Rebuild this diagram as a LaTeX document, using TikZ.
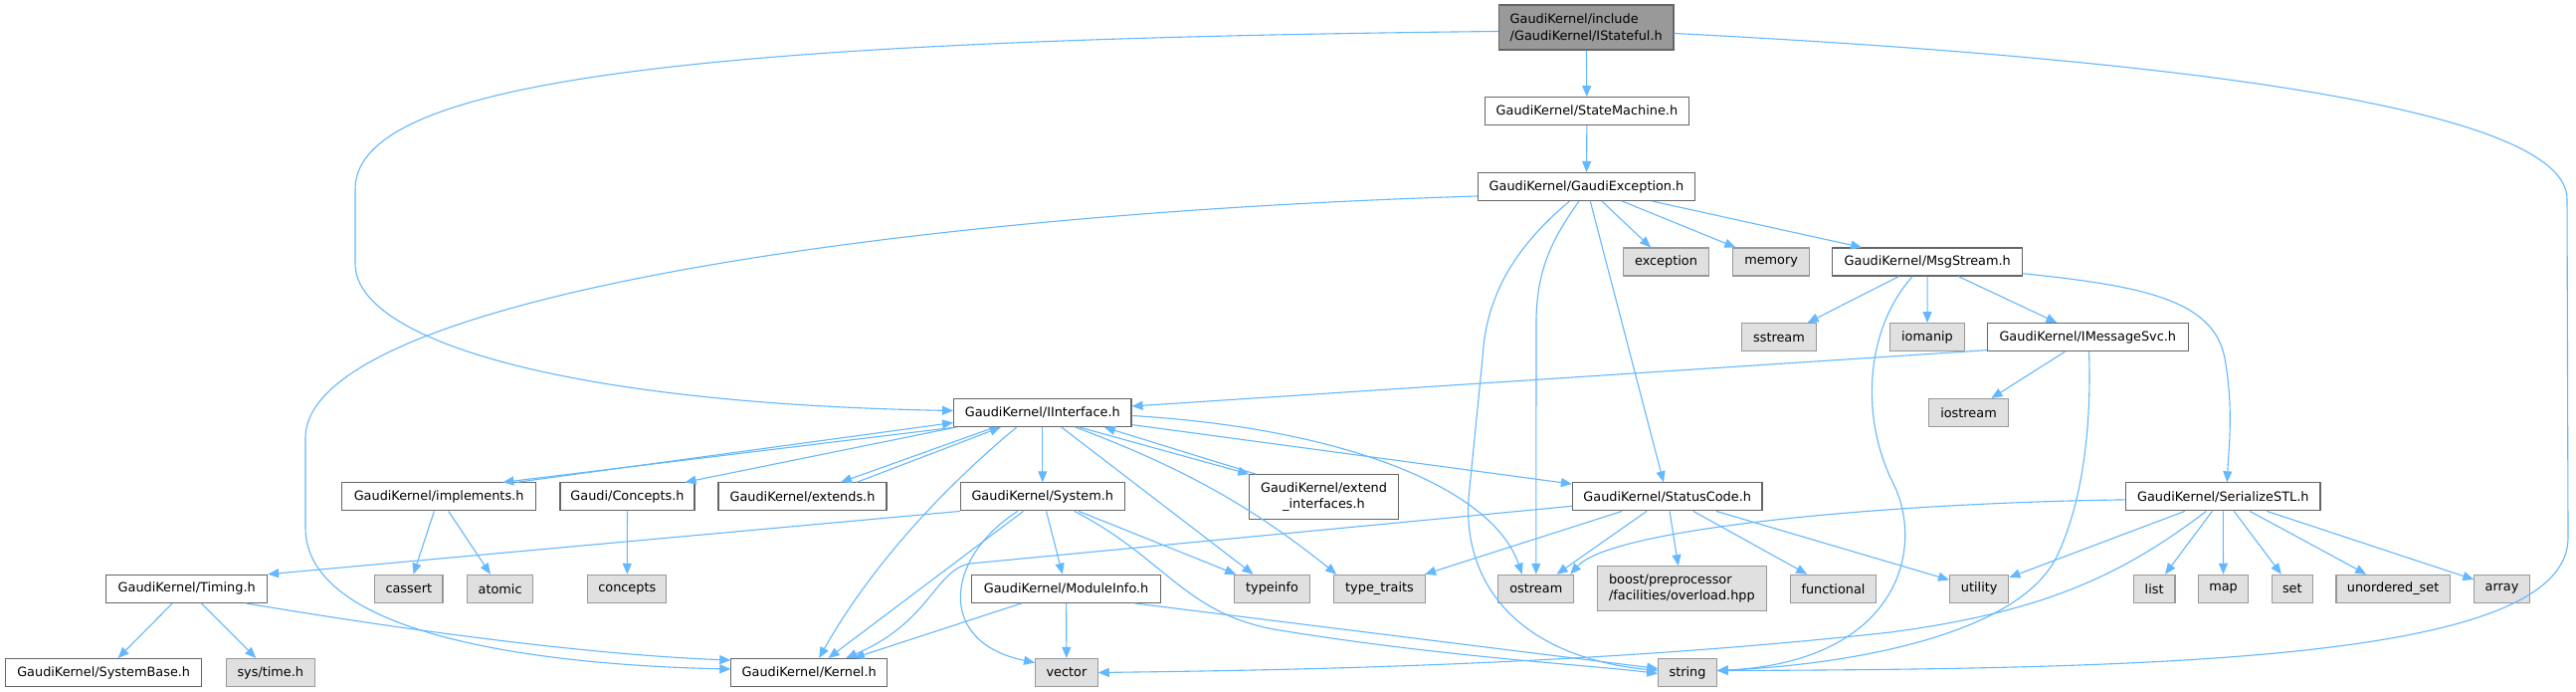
\documentclass[tikz,border=0pt]{standalone}
\usepackage{fontspec}
\setmainfont{DejaVu Sans}
\usetikzlibrary{arrows.meta}
\definecolor{EdgeBlue}{RGB}{99,184,255}
\definecolor{BoxLine}{RGB}{102,102,102}
\definecolor{ExtLine}{RGB}{153,153,153}
\definecolor{ExtFill}{RGB}{224,224,224}
\definecolor{RootFill}{RGB}{153,153,153}

\begin{document}
\begin{tikzpicture}[
    x=1pt, y=-1pt,
    every node/.style={font=\fontsize{12.85}{16.5}\selectfont, inner sep=0pt},
    hfile/.style={draw=BoxLine, fill=white, line width=1.1pt, minimum height=28pt},
    extfile/.style={draw=ExtLine, fill=ExtFill, line width=1.1pt, minimum height=28pt},
    rootfile/.style={draw=BoxLine, fill=RootFill, line width=1.1pt, minimum height=45pt, align=left},
    dep/.style={draw=EdgeBlue, line width=1.1pt, -{Triangle[length=11pt,width=9pt]}}
]
\fill[white] (0,0) rectangle (2589,695);
\useasboundingbox (0,0) rectangle (2589,695);

% files
\node[rootfile, minimum width=175.5pt] (stateful) at (1594.2,27.5) {GaudiKernel/include\\/GaudiKernel/IStateful.h};
\node[hfile, minimum width=204.7pt] (statemachine) at (1594.9,111.7) {GaudiKernel/StateMachine.h};
\node[hfile, minimum width=218.1pt] (gexception) at (1594.5,187.5) {GaudiKernel/GaudiException.h};
\node[extfile, minimum width=86.1pt] (exception) at (1674.5,263) {exception};
\node[extfile, minimum width=76.6pt] (memory) at (1780.1,263) {memory};
\node[hfile, minimum width=191pt] (msgstream) at (1937.2,263) {GaudiKernel/MsgStream.h};
\node[extfile, minimum width=75pt] (sstream) at (1788,338.7) {sstream};
\node[extfile, minimum width=74.6pt] (iomanip) at (1937,338.7) {iomanip};
\node[hfile, minimum width=202pt] (imsgsvc) at (2098.3,338.7) {GaudiKernel/IMessageSvc.h};
\node[hfile, minimum width=178.4pt] (iinterface) at (1047.8,414.5) {GaudiKernel/IInterface.h};
\node[extfile, minimum width=79.6pt] (iostream) at (1978.5,414.5) {iostream};
\node[hfile, minimum width=194.6pt] (implements) at (441.1,498.9) {GaudiKernel/implements.h};
\node[hfile, minimum width=135pt] (conceptsh) at (630.5,498.9) {Gaudi/Concepts.h};
\node[hfile, minimum width=169pt] (extends) at (806.5,498.9) {GaudiKernel/extends.h};
\node[hfile, minimum width=164.7pt] (system) at (1047.8,498.9) {GaudiKernel/System.h};
\node[hfile, minimum width=149.2pt, minimum height=44.3pt, align=center] (extendif) at (1330.5,498.9) {GaudiKernel/extend\\\_interfaces.h};
\node[hfile, minimum width=190.5pt] (statuscode) at (1675.7,498.9) {GaudiKernel/StatusCode.h};
\node[hfile, minimum width=195.4pt] (serialstl) at (2234.3,498.9) {GaudiKernel/SerializeSTL.h};
\node[hfile, minimum width=161.8pt] (timing) at (187.7,591.3) {GaudiKernel/Timing.h};
\node[extfile, minimum width=68.3pt] (cassert) at (410.8,591.3) {cassert};
\node[extfile, minimum width=66pt] (atomic) at (502.6,591.3) {atomic};
\node[extfile, minimum width=79.2pt] (concepts) at (630.3,591.3) {concepts};
\node[hfile, minimum width=189.4pt] (moduleinfo) at (1071.6,591.3) {GaudiKernel/ModuleInfo.h};
\node[extfile, minimum width=75.2pt] (typeinfo) at (1278.5,591.3) {typeinfo};
\node[extfile, minimum width=91.3pt] (typetraits) at (1386.5,591.3) {type\_traits};
\node[extfile, minimum width=75.8pt] (ostream) at (1543.8,591.3) {ostream};
\node[extfile, minimum width=170.2pt, minimum height=45pt, align=left] (boost) at (1690.4,591.2) {boost/preprocessor\\/facilities/overload.hpp};
\node[extfile, minimum width=86.1pt] (functional) at (1842.5,591.3) {functional};
\node[extfile, minimum width=59.2pt] (utility) at (1989.2,591.3) {utility};
\node[extfile, minimum width=41.8pt] (list) at (2165.1,591.3) {list};
\node[extfile, minimum width=50.3pt] (map) at (2234.5,591.3) {map};
\node[extfile, minimum width=41.2pt] (set) at (2303.8,591.3) {set};
\node[extfile, minimum width=114.2pt] (unorderedset) at (2405.1,591.3) {unordered\_set};
\node[extfile, minimum width=55.3pt] (array) at (2514.5,591.3) {array};
\node[hfile, minimum width=196.9pt] (systembase) at (104.2,675.5) {GaudiKernel/SystemBase.h};
\node[extfile, minimum width=89pt] (systime) at (271.8,675.5) {sys/time.h};
\node[hfile, minimum width=156.7pt] (kernel) at (813.2,675.5) {GaudiKernel/Kernel.h};
\node[extfile, minimum width=62.6pt] (vector) at (1071.9,675.5) {vector};
\node[extfile, minimum width=58.5pt] (string) at (1696,675.5) {string};

% includes of IStateful.h
\draw[dep] (stateful) -- (statemachine);
\draw[dep] ([yshift=-4]stateful.west) .. controls (700,40) and (357,80) .. (357,190) -- (357,265) .. controls (357,340) and (560,405) .. ([yshift=2]iinterface.west);
\draw[dep] ([yshift=-6]stateful.east) .. controls (2200,60) and (2580,110) .. (2580,200) -- (2581,540) .. controls (2581,660) and (2200,672) .. ([yshift=2]string.east);
\draw[dep] (statemachine) -- (gexception);

% GaudiException.h
\draw[dep] (gexception) -- (exception);
\draw[dep] (gexception) -- (memory);
\draw[dep] (gexception) -- (msgstream);
\draw[dep] (gexception) -- (statuscode);
\draw[dep] ([xshift=-7.6]gexception.south) .. controls (1560,240) and (1545,270) .. (1544,320) -- (ostream.north);
\draw[dep] ([xshift=-17]gexception.south) .. controls (1520,250) and (1493,300) .. (1490,360) -- (1476,500) .. controls (1470,590) and (1530,660) .. ([yshift=2]string.west);
\draw[dep] ([yshift=-9.5]gexception.west) .. controls (900,215) and (307,300) .. (307,440) -- (307,530) .. controls (307,640) and (550,668) .. ([yshift=3.5]kernel.west);

% MsgStream.h and IMessageSvc.h
\draw[dep] (msgstream) -- (sstream);
\draw[dep] (msgstream) -- (iomanip);
\draw[dep] (msgstream) -- (imsgsvc);
\draw[dep] ([yshift=-11.7]msgstream.east) .. controls (2150,287) and (2225,300) .. (2236,360) .. controls (2245,410) and (2240,450) .. ([xshift=4]serialstl.north);
\draw[dep] ([xshift=-15]msgstream.south) .. controls (1875,330) and (1868,420) .. (1905,490) .. controls (1935,560) and (1900,665) .. ([yshift=2]string.east);
\draw[dep] (imsgsvc) -- (iostream);
\draw[dep] ([yshift=-13]imsgsvc.west) -- ([yshift=6.5]iinterface.east);
\draw[dep] ([xshift=1.2]imsgsvc.south) .. controls (2102,420) and (2095,500) .. (2068,557) .. controls (2030,640) and (1850,668) .. ([yshift=2]string.east);

% IInterface.h
\draw[dep] ([xshift=2.4]iinterface.south west) -- ([xshift=64.3]implements.north);
\draw[dep] ([xshift=78]implements.north) -- ([yshift=-10]iinterface.west);
\draw[dep] ([xshift=3]iinterface.south west) -- ([xshift=-10]conceptsh.north east);
\draw[dep] ([xshift=-48]iinterface.south) -- ([xshift=38.5]extends.north);
\draw[dep] ([xshift=54.5]extends.north) -- ([xshift=-42]iinterface.south);
\draw[dep] (iinterface) -- (system);
\draw[dep] (iinterface) -- (typeinfo);
\draw[dep] ([xshift=33]iinterface.south) .. controls (1190,470) and (1260,510) .. ([xshift=3]typetraits.north west);
\draw[dep] ([xshift=37]iinterface.south) -- (extendif.north west);
\draw[dep] ([xshift=7]extendif.north west) -- ([xshift=62]iinterface.south);
\draw[dep] ([yshift=-3]iinterface.east) .. controls (1350,430) and (1500,490) .. ([xshift=-14]ostream.north);
\draw[dep] (iinterface) -- (statuscode);
\draw[dep] ([xshift=-26]iinterface.south) .. controls (960,480) and (880,560) .. ([xshift=10]kernel.north);

\draw[dep] (implements) -- (cassert);
\draw[dep] (implements) -- (atomic);
\draw[dep] (conceptsh) -- (concepts);

% System.h
\draw[dep] (system.south west) -- (timing.north east);
\draw[dep] (system) -- (kernel);
\draw[dep] (system) -- (moduleinfo);
\draw[dep] (system) -- (typeinfo);
\draw[dep] ([xshift=-25]system.south) .. controls (950,560) and (940,645) .. ([yshift=10]vector.west);
\draw[dep] ([xshift=32]system.south) .. controls (1170,560) and (1190,615) .. (1280,632) .. controls (1450,660) and (1600,668) .. ([yshift=-1]string.west);

% StatusCode.h
\draw[dep] ([yshift=-9.4]statuscode.west) -- (975,566) .. controls (940,572) and (935,625) .. ([xshift=37]kernel.north);
\draw[dep] (statuscode) -- (typetraits);
\draw[dep] (statuscode) -- (ostream);
\draw[dep] (statuscode) -- (boost);
\draw[dep] (statuscode) -- (functional);
\draw[dep] (statuscode) -- (utility);

% Timing.h and ModuleInfo.h
\draw[dep] (timing) -- (systembase);
\draw[dep] (timing) -- (systime);
\draw[dep] ([xshift=59]timing.south) .. controls (420,635) and (600,658) .. ([yshift=12.5]kernel.west);
\draw[dep] (moduleinfo) -- (kernel);
\draw[dep] (moduleinfo) -- (vector);
\draw[dep] ([xshift=68]moduleinfo.south) -- ([yshift=4]string.west);

% SerializeSTL.h
\draw[dep] ([yshift=-3]serialstl.west) .. controls (1900,505) and (1620,530) .. ([xshift=-4]ostream.north east);
\draw[dep] (serialstl) -- (utility);
\draw[dep] ([xshift=-17]serialstl.south) .. controls (2130,580) and (2050,615) .. (1900,635) .. controls (1600,668) and (1300,673) .. (vector.east);
\draw[dep] (serialstl) -- (list);
\draw[dep] (serialstl) -- (map);
\draw[dep] (serialstl) -- (set);
\draw[dep] (serialstl) -- (unorderedset);
\draw[dep] (serialstl) -- (array);
\end{tikzpicture}
\end{document}
